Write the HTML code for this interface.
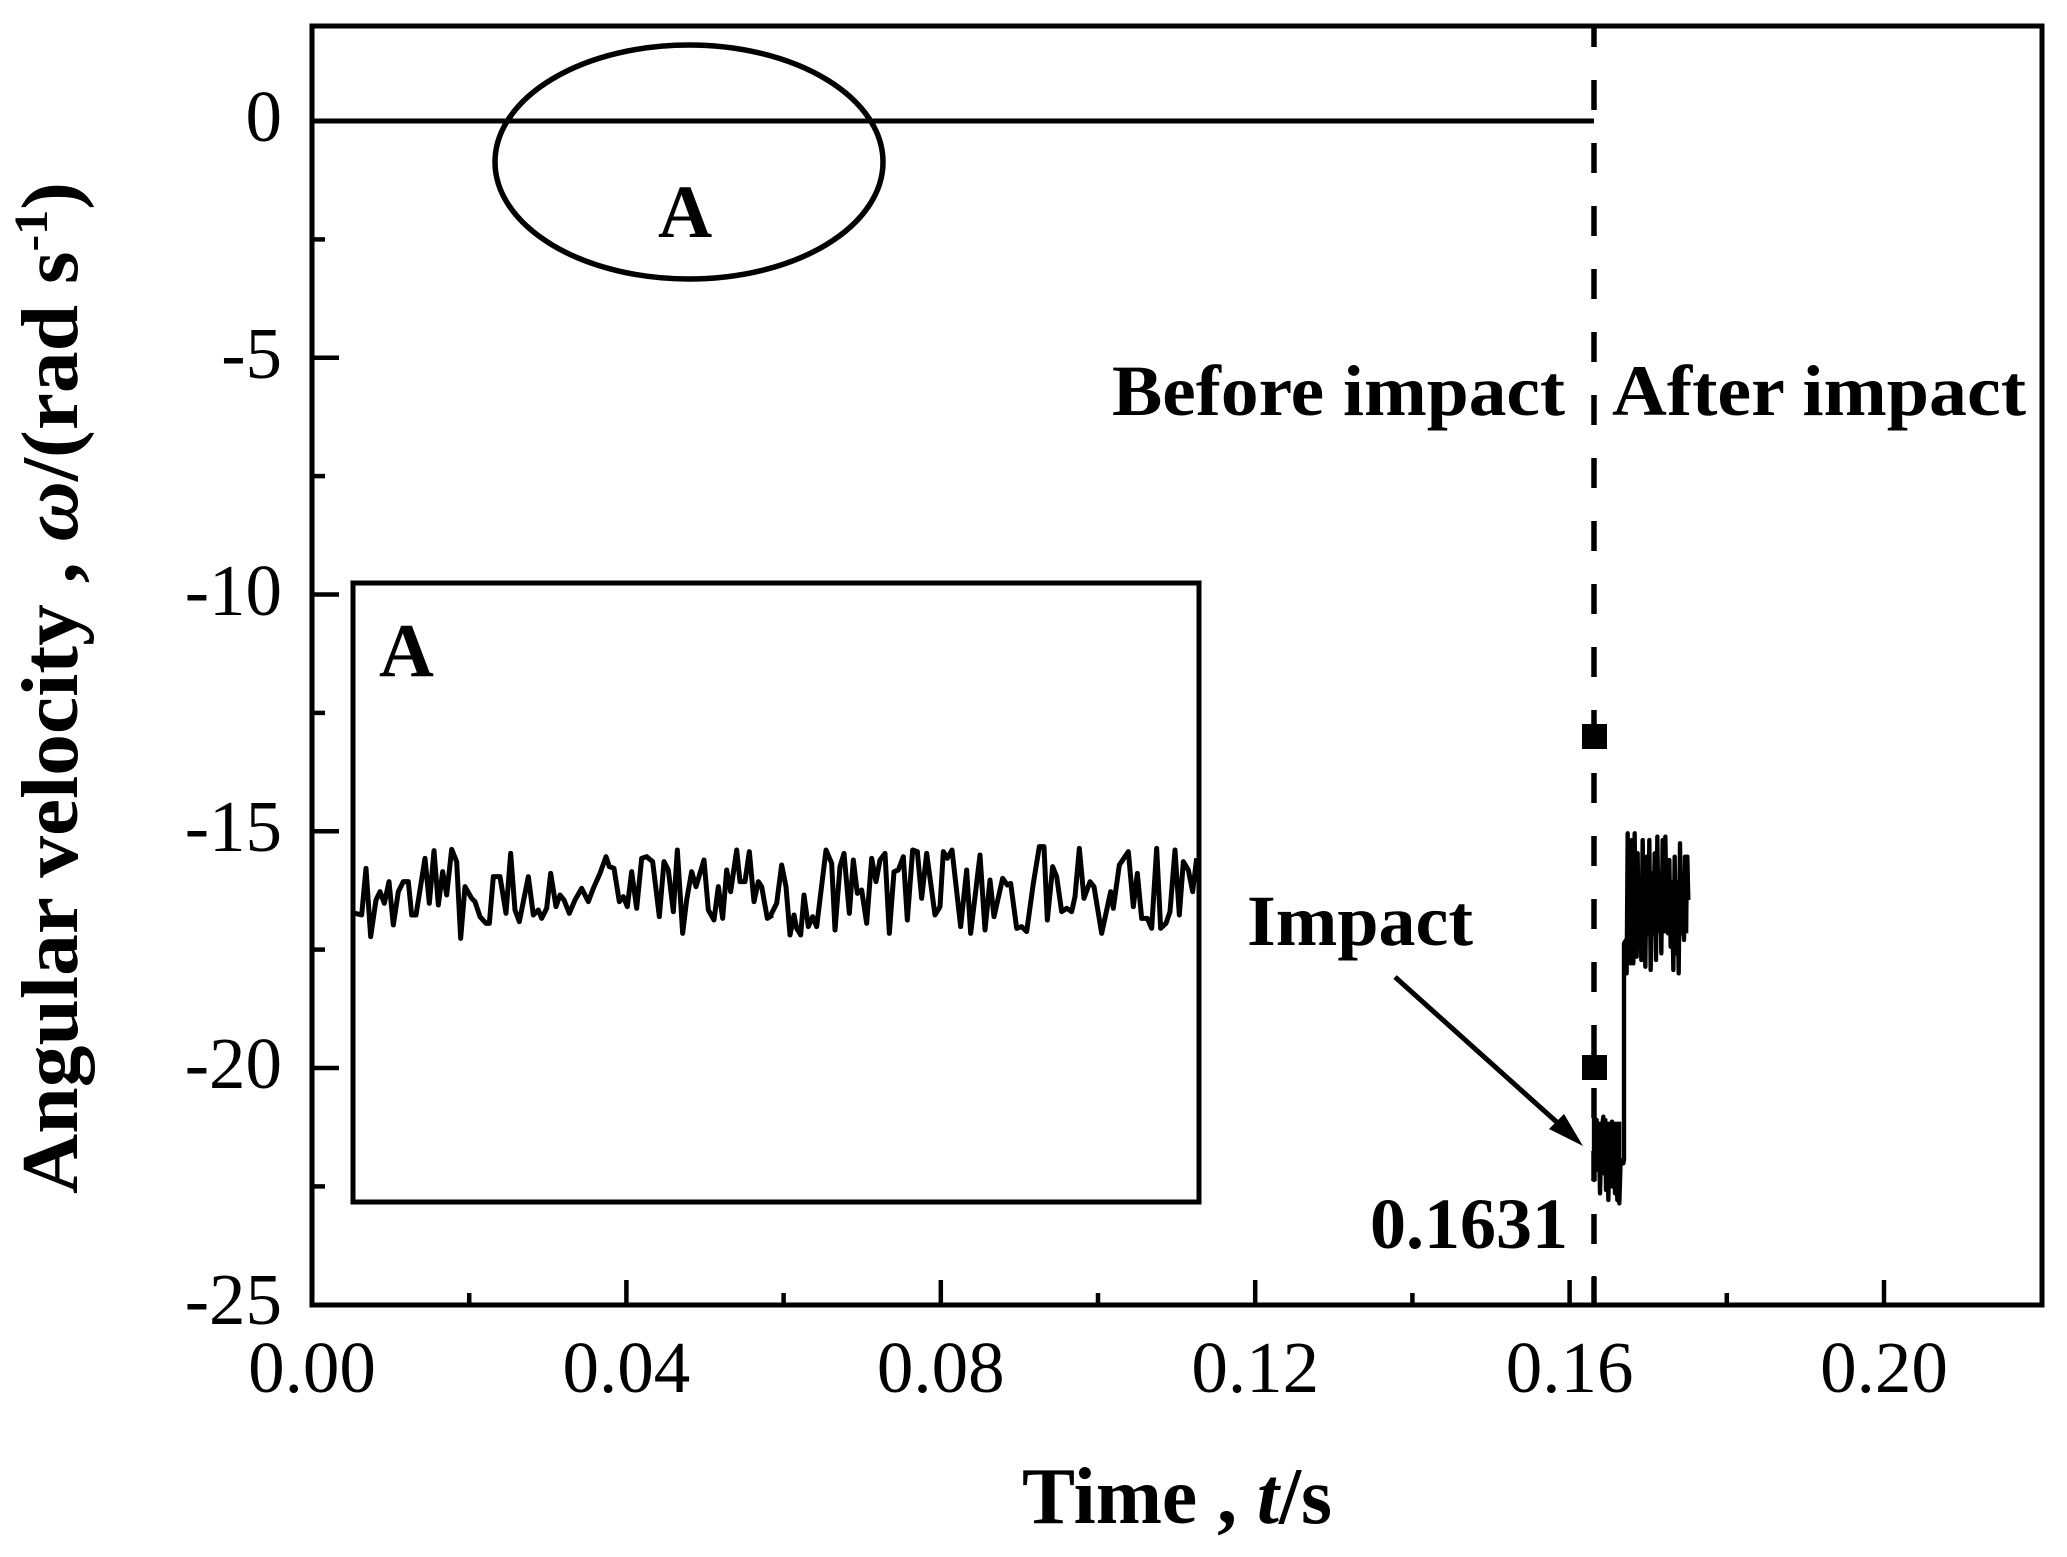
<!DOCTYPE html>
<html>
<head>
<meta charset="utf-8">
<style>
html,body{margin:0;padding:0;background:#fff;}
svg{display:block;}
text{font-family:"Liberation Serif","Times New Roman",serif;fill:#000;}
</style>
</head>
<body>
<svg width="2067" height="1557" viewBox="0 0 2067 1557" xmlns="http://www.w3.org/2000/svg">
<rect x="0" y="0" width="2067" height="1557" fill="#fff"/>

<!-- zero line -->
<line x1="312" y1="121" x2="1594" y2="121" stroke="#000" stroke-width="5"/>

<!-- dashed vertical line at t=0.1631 -->
<line x1="1594" y1="26" x2="1594" y2="1305" stroke="#000" stroke-width="5.5" stroke-dasharray="30 33" stroke-dashoffset="9"/>

<!-- ellipse A -->
<ellipse cx="689" cy="162" rx="194" ry="117" fill="none" stroke="#000" stroke-width="5.5"/>
<text x="658" y="237" font-size="75" font-weight="bold">A</text>

<!-- inset box -->
<rect x="353" y="583" width="846" height="619" fill="none" stroke="#000" stroke-width="5"/>
<text x="379" y="676" font-size="76" font-weight="bold">A</text>

<!-- inset signal -->
<g transform="translate(340,820) scale(0.33333)" fill="none" stroke="#000" stroke-width="15" stroke-linejoin="round">
<path d="M45,280 L65,285 L78,145 L92,350 L108,240 L120,215 L133,250 L147,185 L160,315 L175,215 L190,185 L205,185 L215,285 L228,285 L255,115 L268,250 L282,92 L295,255 L308,155 L320,225 L335,88 L350,125 L362,355 L375,200 L395,235 L405,245 L420,290 L438,310 L448,310 L460,170 L480,170 L498,280 L512,100 L525,270 L538,305 L565,170 L580,285 L595,270 L605,295 L620,265 L632,160 L648,260 L660,225 L672,240 L688,280 L705,240 L725,205 L745,245 L760,205 L780,160 L798,110 L808,140 L822,145 L838,245 L850,230 L862,260 L875,155 L890,265 L905,115 L920,110 L938,125 L958,290 L972,125 L985,150 L1000,275 L1012,90 L1028,340 L1040,240 L1055,155 L1068,200 L1092,120 L1105,270 L1122,300 L1135,200 L1148,295 L1160,150 L1172,215 L1190,90 L1200,185 L1215,185 L1228,95 L1242,245 L1255,185 L1265,200 L1282,295 L1298,285"/>
</g>
<g transform="translate(770,820) scale(0.33333)" fill="none" stroke="#000" stroke-width="15" stroke-linejoin="round">
<path d="M0,290 L20,250 L35,135 L48,200 L60,345 L72,285 L80,325 L92,345 L102,225 L115,320 L128,290 L140,320 L168,90 L185,130 L195,330 L210,140 L222,100 L238,280 L250,120 L262,220 L275,210 L290,310 L305,115 L318,185 L330,120 L345,100 L358,340 L372,155 L385,150 L400,110 L412,300 L428,90 L442,95 L455,235 L470,100 L495,285 L510,260 L520,95 L532,115 L546,90 L572,320 L590,150 L602,340 L630,105 L645,330 L660,180 L672,290 L698,175 L712,195 L722,190 L740,325 L755,320 L770,335 L790,190 L808,80 L822,80 L832,300 L848,140 L860,170 L875,275 L890,265 L905,275 L915,230 L928,85 L942,235 L960,185 L972,200 L995,340 L1022,215 L1030,265 L1048,135 L1075,95 L1090,260 L1102,160 L1115,295 L1132,295 L1145,325 L1160,85 L1172,325 L1188,310 L1200,275 L1215,90 L1228,285 L1240,125 L1255,150 L1268,215 L1280,115"/>
</g>

<!-- post-impact trace -->
<g transform="translate(1500,700) scale(0.33333)">
<rect x="284" y="1265" width="80" height="150" fill="#000"/>
<rect x="380" y="540" width="185" height="160" fill="#000"/>
<path fill="none" stroke="#000" stroke-width="13" stroke-linejoin="round" d="M282,1250 L282,1440 L290,1260 L292,1400 L298,1380 L300,1480 L305,1290 L310,1250 L312,1420 L316,1260 L318,1470 L322,1300 L325,1500 L330,1290 L333,1420 L336,1265 L338,1460 L342,1300 L345,1480 L348,1380 L352,1500 L355,1340 L358,1510 L362,1380 L365,1390 L370,1390 L372,1380 L372,730 L378,720 L380,820 L383,400 L386,700 L388,560 L392,790 L395,420 L398,700 L400,790 L404,400 L407,680 L410,770 L413,460 L416,740 L420,600 L424,780 L428,420 L432,660 L436,800 L440,470 L444,700 L448,420 L452,810 L456,520 L460,700 L464,460 L468,780 L472,410 L476,690 L480,520 L484,760 L488,420 L492,660 L496,410 L500,640 L504,700 L508,480 L512,740 L516,560 L520,810 L524,470 L528,760 L532,560 L536,820 L540,430 L544,700 L548,610 L552,720 L555,470 L558,680 L562,470 L565,600"/>
</g>

<!-- markers -->
<rect x="1582" y="724" width="25" height="25" fill="#000"/>
<rect x="1582" y="1055" width="25" height="25" fill="#000"/>

<!-- arrow -->
<line x1="1395" y1="977" x2="1560" y2="1125" stroke="#000" stroke-width="5"/>
<polygon points="1583,1146 1549,1129 1564,1114" fill="#000"/>

<!-- annotations -->
<text x="1112" y="415" font-size="72" font-weight="bold" textLength="453" lengthAdjust="spacingAndGlyphs">Before impact</text>
<text x="1612" y="415" font-size="72" font-weight="bold" textLength="414" lengthAdjust="spacingAndGlyphs">After impact</text>
<text x="1247" y="945" font-size="72" font-weight="bold" textLength="226" lengthAdjust="spacingAndGlyphs">Impact</text>
<text x="1370" y="1248" font-size="72" font-weight="bold" textLength="198" lengthAdjust="spacingAndGlyphs">0.1631</text>

<!-- axes frame -->
<rect x="312" y="26" width="1730" height="1279" fill="none" stroke="#000" stroke-width="5"/>

<!-- y ticks -->
<g stroke="#000" stroke-width="4.5">
<line x1="312" y1="121" x2="339" y2="121"/>
<line x1="312" y1="357.75" x2="339" y2="357.75"/>
<line x1="312" y1="594.5" x2="339" y2="594.5"/>
<line x1="312" y1="831.25" x2="339" y2="831.25"/>
<line x1="312" y1="1068" x2="339" y2="1068"/>
<line x1="312" y1="239.4" x2="325" y2="239.4"/>
<line x1="312" y1="476.1" x2="325" y2="476.1"/>
<line x1="312" y1="712.9" x2="325" y2="712.9"/>
<line x1="312" y1="949.6" x2="325" y2="949.6"/>
<line x1="312" y1="1186.4" x2="325" y2="1186.4"/>
</g>
<!-- x ticks -->
<g stroke="#000" stroke-width="4.5">
<line x1="626.4" y1="1305" x2="626.4" y2="1280"/>
<line x1="940.8" y1="1305" x2="940.8" y2="1280"/>
<line x1="1255.2" y1="1305" x2="1255.2" y2="1280"/>
<line x1="1569.6" y1="1305" x2="1569.6" y2="1280"/>
<line x1="1884" y1="1305" x2="1884" y2="1280"/>
<line x1="469.2" y1="1305" x2="469.2" y2="1293"/>
<line x1="783.6" y1="1305" x2="783.6" y2="1293"/>
<line x1="1098" y1="1305" x2="1098" y2="1293"/>
<line x1="1412.4" y1="1305" x2="1412.4" y2="1293"/>
<line x1="1726.8" y1="1305" x2="1726.8" y2="1293"/>
<line x1="1594" y1="1305" x2="1594" y2="1276"/>
</g>

<!-- y tick labels -->
<g font-size="73" text-anchor="end">
<text x="282" y="141">0</text>
<text x="282" y="378">-5</text>
<text x="282" y="615">-10</text>
<text x="282" y="851">-15</text>
<text x="282" y="1088">-20</text>
<text x="282" y="1324">-25</text>
</g>
<!-- x tick labels -->
<g font-size="73" text-anchor="middle">
<text x="312" y="1392">0.00</text>
<text x="626.4" y="1392">0.04</text>
<text x="940.8" y="1392">0.08</text>
<text x="1255.2" y="1392">0.12</text>
<text x="1569.6" y="1392">0.16</text>
<text x="1884" y="1392">0.20</text>
</g>

<!-- axis titles -->
<text x="1022" y="1523" font-size="80" font-weight="bold" textLength="310" lengthAdjust="spacingAndGlyphs">Time , <tspan font-style="italic">t</tspan>/s</text>
<text transform="translate(77,1194) rotate(-90)" font-size="80" font-weight="bold" textLength="1012" lengthAdjust="spacingAndGlyphs">Angular velocity , <tspan font-style="italic">ω</tspan>/(rad s<tspan font-size="48" dy="-30">-1</tspan><tspan dy="30">)</tspan></text>
</svg>
</body>
</html>
